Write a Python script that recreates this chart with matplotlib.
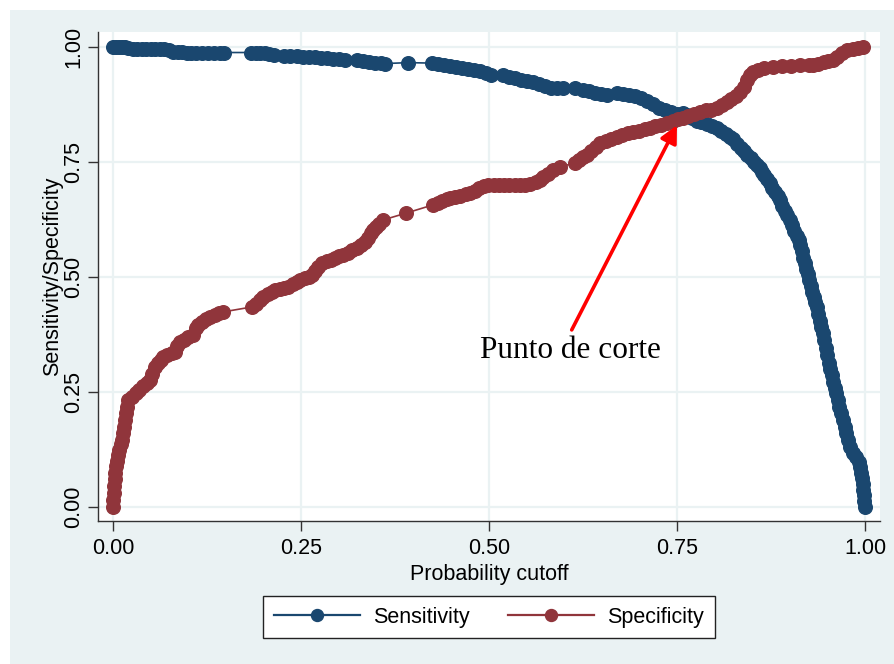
"""Sensitivity / specificity versus probability cutoff (lsens-style plot)."""

import matplotlib

matplotlib.use("Agg")
import matplotlib.pyplot as plt
from matplotlib.lines import Line2D
from matplotlib.patches import Rectangle

NAVY = "#1a476f"
MAROON = "#90353b"
BG = "#eaf2f3"

# cutoff, sensitivity
SENS_X = [
    0.000, 0.004, 0.008, 0.012, 0.016, 0.020, 0.026, 0.032, 0.038, 0.044,
    0.050, 0.056, 0.062, 0.068, 0.074, 0.080, 0.086, 0.092, 0.098, 0.104,
    0.110, 0.118, 0.126, 0.134, 0.142, 0.148,
    0.184, 0.190, 0.196, 0.202, 0.208, 0.214, 0.228, 0.236, 0.244, 0.252,
    0.260, 0.268, 0.276, 0.284, 0.292, 0.300, 0.308, 0.324, 0.332, 0.340,
    0.348, 0.356, 0.362,
    0.392,
    0.424, 0.432, 0.440, 0.448, 0.456, 0.464, 0.472, 0.480, 0.488, 0.496,
    0.502, 0.519, 0.527, 0.535, 0.543, 0.551, 0.559, 0.567, 0.575, 0.583,
    0.591, 0.599, 0.614, 0.625, 0.633, 0.641, 0.649, 0.657, 0.670, 0.678,
    0.686, 0.694, 0.702, 0.710, 0.718, 0.726, 0.734, 0.742, 0.750, 0.758,
    0.763, 0.770, 0.776, 0.782, 0.790, 0.797, 0.803, 0.809, 0.815, 0.820,
    0.825, 0.830, 0.835, 0.839, 0.843, 0.848, 0.853, 0.857, 0.860, 0.863,
    0.866, 0.870, 0.874, 0.877, 0.880, 0.884, 0.887, 0.890, 0.893, 0.896,
    0.900, 0.903, 0.906, 0.909, 0.912, 0.914, 0.916, 0.918, 0.920, 0.922,
    0.924, 0.926, 0.928, 0.930, 0.932, 0.934, 0.936, 0.938, 0.940, 0.942,
    0.944, 0.946, 0.948, 0.950, 0.952, 0.954, 0.956, 0.958, 0.960, 0.962,
    0.964, 0.966, 0.968, 0.971, 0.973, 0.975, 0.977, 0.980, 0.984, 0.988,
    0.992, 0.994, 0.995, 0.996, 0.998, 0.998, 0.999, 0.999, 1.000,
]
SENS_Y = [
    1.000, 1.000, 1.000, 1.000, 1.000, 0.998, 0.995, 0.995, 0.995, 0.995,
    0.995, 0.995, 0.995, 0.995, 0.993, 0.990, 0.990, 0.990, 0.988, 0.988,
    0.988, 0.988, 0.988, 0.988, 0.988, 0.988,
    0.988, 0.988, 0.988, 0.986, 0.984, 0.982, 0.980, 0.980, 0.980, 0.979,
    0.978, 0.978, 0.977, 0.975, 0.974, 0.973, 0.972, 0.972, 0.970, 0.968,
    0.966, 0.965, 0.964,
    0.966,
    0.965, 0.962, 0.960, 0.958, 0.956, 0.954, 0.952, 0.950, 0.947, 0.944,
    0.940, 0.940, 0.935, 0.932, 0.929, 0.926, 0.923, 0.920, 0.915, 0.911,
    0.911, 0.911, 0.911, 0.907, 0.904, 0.901, 0.898, 0.896, 0.899, 0.897,
    0.895, 0.893, 0.889, 0.882, 0.875, 0.868, 0.862, 0.859, 0.855, 0.856,
    0.852, 0.846, 0.840, 0.836, 0.832, 0.828, 0.824, 0.818, 0.811, 0.805,
    0.800, 0.790, 0.781, 0.773, 0.765, 0.758, 0.750, 0.744, 0.738, 0.728,
    0.722, 0.714, 0.704, 0.694, 0.685, 0.676, 0.667, 0.655, 0.644, 0.634,
    0.624, 0.612, 0.601, 0.590, 0.580, 0.570, 0.556, 0.542, 0.530, 0.518,
    0.506, 0.493, 0.480, 0.468, 0.457, 0.446, 0.435, 0.420, 0.405, 0.392,
    0.378, 0.362, 0.346, 0.330, 0.314, 0.300, 0.286, 0.272, 0.259, 0.248,
    0.233, 0.218, 0.204, 0.189, 0.174, 0.160, 0.145, 0.130, 0.118, 0.108,
    0.098, 0.086, 0.074, 0.062, 0.050, 0.038, 0.026, 0.013, 0.000,
]

# cutoff, specificity
SPEC_X = [
    0.000, 0.000, 0.001, 0.001, 0.002, 0.003, 0.004, 0.005, 0.007, 0.008,
    0.010, 0.012, 0.013, 0.014, 0.016, 0.017, 0.018, 0.020, 0.025, 0.030,
    0.035, 0.040, 0.045, 0.049, 0.052, 0.056, 0.060, 0.064, 0.067, 0.072,
    0.078, 0.082, 0.085, 0.089, 0.094, 0.100, 0.106, 0.110, 0.113, 0.118,
    0.124, 0.129, 0.135, 0.141, 0.146,
    0.185, 0.190, 0.195, 0.200, 0.206, 0.211, 0.216, 0.222, 0.228, 0.233,
    0.240, 0.245, 0.249, 0.255, 0.260, 0.264, 0.268, 0.272, 0.278, 0.284,
    0.290, 0.295, 0.301, 0.306, 0.312, 0.318, 0.324, 0.330, 0.335, 0.339,
    0.343, 0.346, 0.350, 0.354, 0.359,
    0.390,
    0.426, 0.432, 0.438, 0.444, 0.448, 0.455, 0.462, 0.469, 0.475, 0.481,
    0.487, 0.493, 0.499, 0.506, 0.513, 0.520, 0.527, 0.534, 0.541, 0.548,
    0.555, 0.562, 0.568, 0.572, 0.578, 0.585, 0.594,
    0.614, 0.620, 0.625, 0.630, 0.636, 0.642, 0.648, 0.655, 0.662, 0.670,
    0.677, 0.685, 0.692, 0.699, 0.707, 0.714, 0.721, 0.729, 0.737, 0.745,
    0.752, 0.758, 0.765, 0.772, 0.780, 0.788, 0.795, 0.803, 0.810, 0.816,
    0.822, 0.828, 0.834, 0.839, 0.843, 0.847, 0.851, 0.858, 0.866, 0.878,
    0.890, 0.902, 0.914, 0.925, 0.931, 0.938, 0.945, 0.951, 0.957, 0.963,
    0.970, 0.976, 0.984, 0.991, 0.998,
]
SPEC_Y = [
    0.000, 0.015, 0.030, 0.045, 0.060, 0.075, 0.090, 0.100, 0.112, 0.124,
    0.136, 0.146, 0.160, 0.175, 0.190, 0.204, 0.218, 0.233, 0.240, 0.248,
    0.254, 0.262, 0.270, 0.276, 0.290, 0.305, 0.314, 0.320, 0.326, 0.330,
    0.334, 0.337, 0.350, 0.359, 0.364, 0.370, 0.374, 0.390, 0.396, 0.402,
    0.408, 0.413, 0.418, 0.421, 0.424,
    0.435, 0.442, 0.450, 0.457, 0.462, 0.468, 0.472, 0.474, 0.477, 0.478,
    0.484, 0.489, 0.493, 0.497, 0.501, 0.504, 0.512, 0.522, 0.530, 0.534,
    0.538, 0.541, 0.545, 0.548, 0.553, 0.558, 0.563, 0.570, 0.577, 0.585,
    0.595, 0.602, 0.609, 0.616, 0.624,
    0.639,
    0.657, 0.661, 0.665, 0.669, 0.672, 0.675, 0.677, 0.680, 0.683, 0.688,
    0.694, 0.698, 0.700, 0.700, 0.700, 0.700, 0.700, 0.700, 0.700, 0.700,
    0.702, 0.706, 0.711, 0.717, 0.725, 0.732, 0.739,
    0.748, 0.755, 0.760, 0.765, 0.773, 0.782, 0.791, 0.796, 0.800, 0.804,
    0.808, 0.812, 0.815, 0.818, 0.821, 0.824, 0.828, 0.831, 0.835, 0.839,
    0.843, 0.846, 0.850, 0.855, 0.859, 0.862, 0.864, 0.867, 0.873, 0.880,
    0.887, 0.893, 0.902, 0.914, 0.928, 0.940, 0.946, 0.950, 0.954, 0.957,
    0.958, 0.959, 0.960, 0.960, 0.961, 0.964, 0.967, 0.970, 0.972, 0.978,
    0.986, 0.993, 0.995, 0.997, 1.000,
]

TICKS = [0.0, 0.25, 0.5, 0.75, 1.0]
TICK_LABELS = ["0.00", "0.25", "0.50", "0.75", "1.00"]

# cutoff point marked on the chart
CUT_X, CUT_Y = 0.75, 0.83

plt.rcParams["font.family"] = ["Liberation Sans", "DejaVu Sans"]

fig = plt.figure(figsize=(8.95, 6.64), dpi=100, facecolor="white")
fig.patches.append(Rectangle((10 / 895, 0), 1, 1 - 10 / 664, transform=fig.transFigure,
                             facecolor=BG, edgecolor="none", zorder=-10))

ax = fig.add_axes([98 / 895, 143 / 664, 782 / 895, 489 / 664])
ax.set_facecolor("white")
ax.set_xlim(-0.02, 1.02)
ax.set_ylim(-0.0304, 1.0326)

for side in ("top", "right"):
    ax.spines[side].set_visible(False)
for side in ("left", "bottom"):
    ax.spines[side].set_color("#333333")
    ax.spines[side].set_linewidth(1.0)

ax.set_xticks(TICKS, TICK_LABELS)
ax.set_yticks(TICKS, TICK_LABELS)
ax.tick_params(direction="out", length=7, width=1, color="#333333",
               labelsize=15.5)
ax.tick_params(axis="y", pad=3)
ax.tick_params(axis="x", pad=5)
for lab in ax.get_yticklabels():
    lab.set_rotation(90)
    lab.set_va("center")
ax.grid(True, color=BG, linewidth=1.6)
ax.set_axisbelow(True)

ax.plot(SENS_X, SENS_Y, color=NAVY, lw=1.2, marker="o", ms=9.8,
        mec=NAVY, mfc=NAVY, zorder=3)
ax.plot(SPEC_X, SPEC_Y, color=MAROON, lw=1.2, marker="o", ms=9.8,
        mec=MAROON, mfc=MAROON, zorder=3)

ax.set_xlabel("Probability cutoff", fontsize=15.5, labelpad=4)
ax.set_ylabel("Sensitivity/Specificity", fontsize=15.5, labelpad=0)

ax.annotate("", xy=(CUT_X, CUT_Y), xytext=(0.61, 0.385),
            arrowprops=dict(arrowstyle="-|>", color="red", lw=2.6,
                            mutation_scale=26, shrinkA=0, shrinkB=0), zorder=4)
ax.text(0.608, 0.324, "Punto de corte", family="Liberation Serif", fontsize=22.5,
        ha="center", va="baseline", zorder=4)

handles = [
    Line2D([], [], color=NAVY, lw=1.6, marker="o", ms=8.6, label="Sensitivity"),
    Line2D([], [], color=MAROON, lw=1.6, marker="o", ms=8.6, label="Specificity"),
]
leg = fig.legend(handles=handles, loc="center", ncol=2,
                 bbox_to_anchor=(489 / 895, 1 - 617 / 664), fontsize=15.5,
                 frameon=True, fancybox=False, framealpha=1, handlelength=4.0,
                 handletextpad=0.6, columnspacing=1.8, borderpad=0.5,
                 markerfirst=True)
leg.get_frame().set_edgecolor("#222222")
leg.get_frame().set_linewidth(1.0)
leg.get_frame().set_facecolor("white")

fig.savefig("out.png", dpi=100, facecolor=fig.get_facecolor())
